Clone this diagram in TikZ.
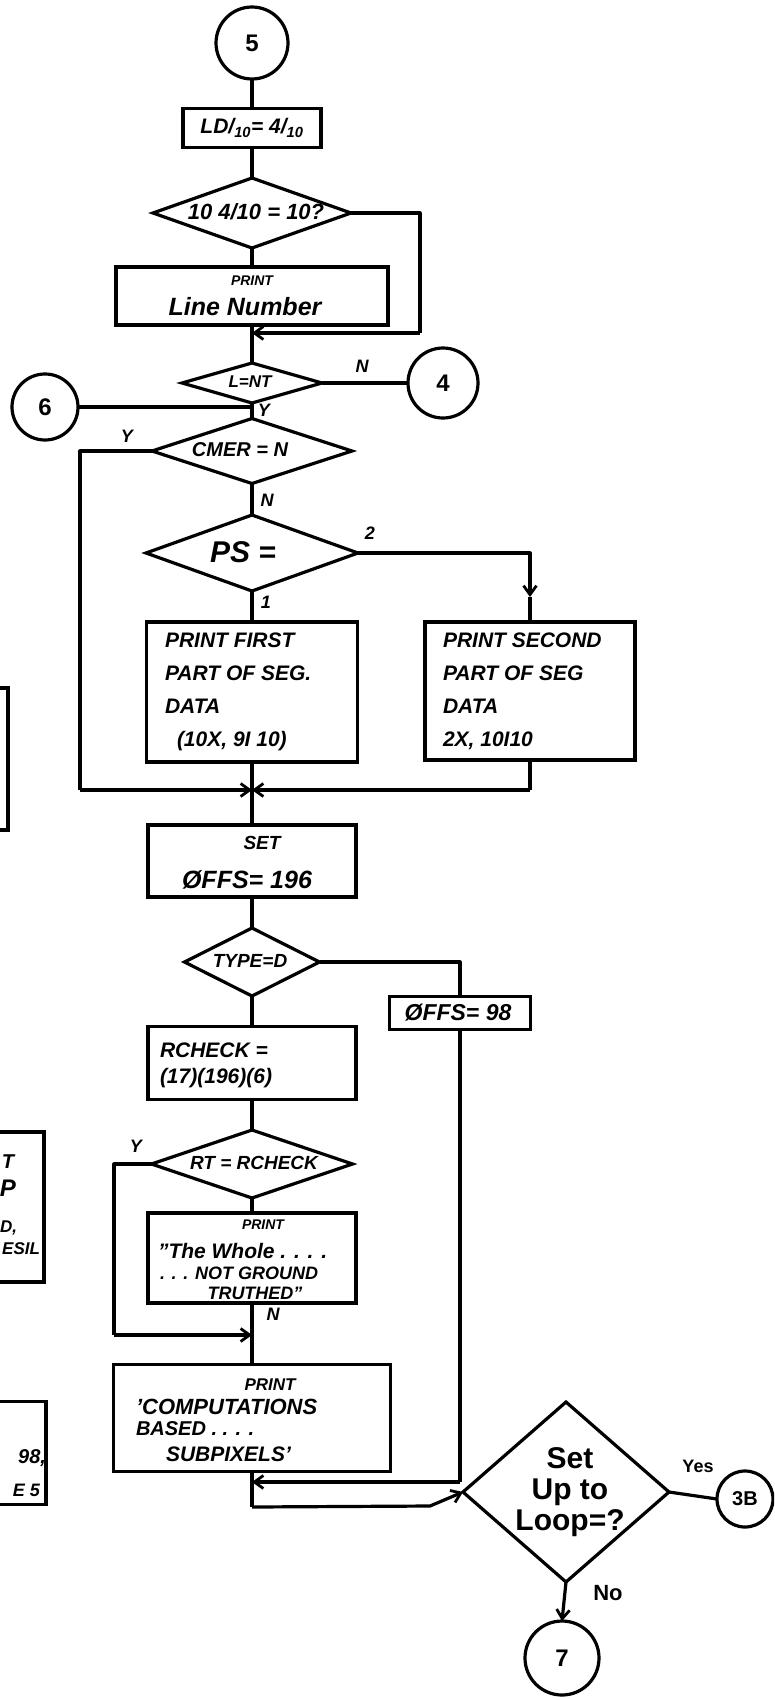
\documentclass[tikz,border=0pt]{standalone}
\usepackage{fontspec}
\setmainfont{Liberation Sans}
\usetikzlibrary{shapes.geometric,arrows.meta}
\newcommand\hwf[2]{\bfseries\itshape\fontsize{#1}{#2}\selectfont}
\newcommand\hwu[2]{\bfseries\upshape\fontsize{#1}{#2}\selectfont}
\begin{document}
\begin{tikzpicture}[x=1pt,y=-1pt,
  every node/.style={inner sep=0pt,outer sep=0pt},
  ln/.style={line width=3.2pt,line join=round},
  arr/.style={ln,-{Straight Barb[length=9pt,width=13pt,line width=2.8pt]}},
  box/.style={draw,rectangle,line width=3.2pt},
  dia/.style={draw,diamond,line width=3.2pt},
  con/.style={draw,circle,line width=3.2pt,font=\hwu{24}{26}},
  txt/.style={font=\hwf{21}{33}},
  sm/.style={font=\hwf{18}{20}},
]
\useasboundingbox (0,0) rectangle (774,1700);
\clip (0,0) rectangle (774,1700);

% top part
\node[con,minimum size=72] (c5) at (252,43) {5};
\node[box,minimum width=138,minimum height=39,font=\hwf{21}{22}] (ld) at (252,128) {LD/\textsubscript{10}= 4/\textsubscript{10}};
\node[dia,minimum width=198,minimum height=70] (d1) at (252,213) {};
\node[font=\hwf{22}{24}] (d1t) at (256,212) {10 4/10 = 10?};
\node[box,minimum width=272,minimum height=58] (pr) at (252,296) {};
\node[font=\hwf{14}{16}] (prt1) at (252,281) {PRINT};
\node[font=\hwf{25}{27}] (prt2) at (245,307) {Line Number};
\draw[ln] (c5) -- (ld);
\draw[ln] (ld) -- (d1);
\draw[ln] (d1) -- (pr);
\coordinate (m1) at (252,333);
\draw[ln] (d1.east) -- (420,213) -- (420,333);
\draw[arr] (420,333) -- (m1);

\node[dia,minimum width=140,minimum height=40] (d2) at (252,383) {};
\node[font=\hwf{17}{18}] (d2t) at (250,382) {L=NT};
\draw[ln] (pr) -- (d2);
\node[con,minimum size=70] (c4) at (443,383) {4};
\draw[ln] (d2.east) -- (c4.west);
\node[sm] (lN1) at (362,366) {N};
\node[con,minimum size=66] (c6) at (45,407) {6};
\coordinate (m2) at (252,407);
\draw[ln] (c6.east) -- (m2);
\node[sm] (lY1) at (264,410) {Y};

\node[dia,minimum width=200,minimum height=65] (d3) at (252,451) {};
\node[font=\hwf{20}{22}] (d3t) at (240,450) {CMER = N};
\draw[ln] (d2) -- (d3);
\node[sm] (lY2) at (127,436) {Y};
\node[sm] (lN2) at (267,500) {N};

\node[dia,minimum width=212,minimum height=76] (d4) at (252,553) {};
\node[font=\hwf{30}{32}] (d4t) at (243,552) {PS =};
\draw[ln] (d3) -- (d4);
\node[sm] (l2) at (370,533) {2};
\node[sm] (l1) at (266,602) {1};

\node[box,minimum width=211,minimum height=140] (lb) at (252,692) {};
\node[txt,align=left,anchor=north west] (lbt) at (165,633) {PRINT FIRST\\PART OF SEG.\\DATA\\\hspace*{12pt}(10X, 9I 10)};
\node[box,minimum width=210,minimum height=138] (rb) at (530,691) {};
\node[txt,align=left,anchor=north west] (rbt) at (443,633) {PRINT SECOND\\PART OF SEG\\DATA\\2X, 10I10};
\draw[ln] (d4) -- (lb);
\coordinate (k1) at (530,597);
\draw[arr] (d4.east) -- (530,553) -- (k1);
\draw[ln] (k1) -- (rb.north);

\coordinate (m3) at (252,790);
\draw[ln] (d3.west) -- (80,451) -- (80,790);
\draw[arr] (80,790) -- (m3);
\draw[ln] (rb.south) -- (530,790);
\draw[arr] (530,790) -- (m3);

% middle part
\node[box,minimum width=208,minimum height=72] (st) at (252,861) {};
\node[font=\hwf{19}{20}] (stt1) at (262,843) {SET};
\node[font=\hwf{25}{27}] (stt2) at (247,880) {ØFFS= 196};
\draw[ln] (lb) -- (st);

\node[dia,minimum width=135,minimum height=68] (d5) at (252,962) {};
\node[font=\hwf{19}{20}] (d5t) at (250,961) {TYPE=D};
\draw[ln] (st) -- (d5);
\node[box,minimum width=141,minimum height=33] (ob) at (460,1013) {};
\node[font=\hwf{23}{24}] (obt) at (458,1013) {ØFFS= 98};
\draw[ln] (d5.east) -- (460,962) -- (ob.north);

\node[box,minimum width=208,minimum height=73] (rc) at (252,1063) {};
\node[font=\hwf{21}{26},align=left,anchor=north west] (rct) at (160,1043) {RCHECK =\\(17)(196)(6)};
\draw[ln] (d5) -- (rc);

\node[dia,minimum width=201,minimum height=68] (d6) at (252,1164) {};
\node[font=\hwf{19}{20}] (d6t) at (254,1163) {RT = RCHECK};
\draw[ln] (rc) -- (d6);

\node[box,minimum width=208,minimum height=90] (wb) at (252,1258) {};
\node[font=\hwf{14}{15}] (wbt1) at (263,1225) {PRINT};
\node[font=\hwf{21}{21},anchor=west] (wbt2) at (158,1251) {"The Whole . . . .};
\node[font=\hwf{18}{21},anchor=west] (wbt3) at (160,1273) {. . . NOT GROUND};
\node[font=\hwf{18}{21}] (wbt4) at (255,1293) {TRUTHED"};
\draw[ln] (d6) -- (wb);
\node[sm] (lY3) at (136,1146) {Y};
\node[sm] (lN3) at (273,1314) {N};
\coordinate (m4) at (252,1335);
\draw[ln] (d6.west) -- (114,1164) -- (114,1335);
\draw[arr] (114,1335) -- (m4);

\node[box,minimum width=277,minimum height=107] (cp) at (252,1418) {};
\node[font=\hwf{17}{18}] (cpt1) at (270,1385) {PRINT};
\node[font=\hwf{22}{22},anchor=west] (cpt2) at (136,1407) {'COMPUTATIONS};
\node[font=\hwf{20}{21},anchor=west] (cpt3) at (136,1429) {BASED . . . .};
\node[font=\hwf{21}{21},anchor=west] (cpt4) at (166,1454) {SUBPIXELS'};
\draw[ln] (wb) -- (cp);

\coordinate (m5) at (252,1482);
\draw[ln] (ob.south) -- (460,1482);
\draw[arr] (460,1482) -- (m5);
\coordinate (m6) at (252,1507);
\draw[ln] (cp.south) -- (m6);

% bottom decision
\node[dia,minimum width=206,minimum height=180] (d7) at (566,1492) {};
\node[font=\hwu{30}{31},align=center] (d7t) at (570,1492) {Set\\Up to\\Loop=?};
\draw[arr] (m6) -- (430,1506) -- (d7.west);
\node[con,minimum size=56,font=\hwu{20}{22}] (c3b) at (745,1499) {3B};
\draw[ln] (d7.east) -- (c3b.west);
\node[font=\hwu{18}{20}] (lyes) at (698,1466) {Yes};
\node[con,minimum size=74] (c7) at (562,1658) {7};
\draw[arr] (d7.south) -- (c7.north);
\node[font=\hwu{22}{24}] (lno) at (608,1593) {No};

% fragments at the left edge
\node[box,minimum width=100,minimum height=142] (fa) at (-42,759) {};
\node[box,minimum width=120,minimum height=150] (fb) at (-16,1207) {};
\node[font=\hwf{20}{22},anchor=east] (fbt1) at (14,1162) {T};
\node[font=\hwf{24}{26},anchor=east] (fbt2) at (16,1188) {P};
\node[font=\hwf{17}{20},anchor=east] (fbt3) at (17,1228) {D,};
\node[font=\hwf{17}{20},anchor=east] (fbt4) at (40,1249) {ESIL};
\node[box,minimum width=120,minimum height=103] (fc) at (-14,1453) {};
\node[font=\hwf{20}{22},anchor=east] (fct1) at (46,1458) {98,};
\node[font=\hwf{18}{20},anchor=east] (fct2) at (40,1490) {E 5};
\end{tikzpicture}
\end{document}
